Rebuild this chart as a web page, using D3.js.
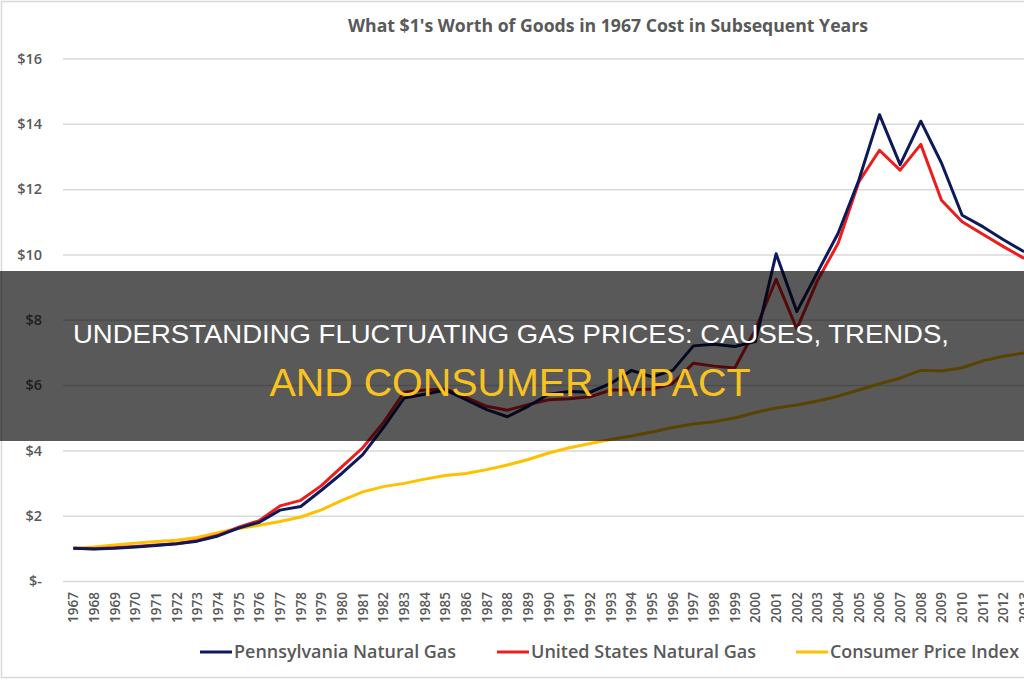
<!DOCTYPE html>
<html>
<head>
<meta charset="utf-8">
<script src="https://cdn.jsdelivr.net/npm/d3@7"></script>
<style>
  body { margin: 0; background: #fff; }
  svg { display: block; }
</style>
</head>
<body>
<div id="chart"></div>
<script>
// data
const years = d3.range(1967, 2014);
const paGas = [1.00, 0.98, 1.00, 1.04, 1.09, 1.14, 1.22, 1.38, 1.62, 1.80,
               2.17, 2.28, 2.78, 3.30, 3.87, 4.70, 5.60, 5.72, 5.85, 5.55,
               5.25, 5.03, 5.35, 5.72, 5.80, 5.78, 6.05, 6.45, 6.25, 6.45,
               7.20, 7.25, 7.18, 7.33, 10.02, 8.25, 9.45, 10.65, 12.27, 14.28,
               12.75, 14.08, 12.80, 11.20, 10.85, 10.45, 10.08];
const usGas = [1.00, 0.99, 1.02, 1.06, 1.10, 1.14, 1.24, 1.40, 1.65, 1.85,
               2.30, 2.47, 2.92, 3.50, 4.08, 4.85, 5.78, 5.85, 5.88, 5.62,
               5.35, 5.23, 5.40, 5.55, 5.58, 5.64, 5.85, 5.85, 5.88, 6.05,
               6.67, 6.58, 6.52, 7.70, 9.24, 7.72, 9.20, 10.34, 12.22, 13.19,
               12.58, 13.37, 11.66, 11.00, 10.62, 10.24, 9.88];
const cpi =   [1.00, 1.04, 1.10, 1.16, 1.21, 1.25, 1.33, 1.48, 1.61, 1.71,
               1.82, 1.96, 2.18, 2.47, 2.73, 2.89, 2.99, 3.12, 3.23, 3.29,
               3.41, 3.55, 3.72, 3.92, 4.08, 4.21, 4.33, 4.44, 4.56, 4.70,
               4.81, 4.88, 4.99, 5.16, 5.30, 5.39, 5.51, 5.66, 5.85, 6.04,
               6.21, 6.45, 6.43, 6.53, 6.74, 6.88, 6.98];
const yTicks = [0, 2, 4, 6, 8, 10, 12, 14, 16];
const seriesNames = ["Pennsylvania Natural Gas", "United States Natural Gas", "Consumer Price Index"];
const seriesColors = ["#0c1a5c", "#ee1c1c", "#ffc000"];

const W = 1024, H = 680;
const plotLeft = 63, step = 20.67;
const plotTop = 58.5, plotBottom = 581;

const svg = d3.select("#chart").append("svg")
    .attr("width", W)
    .attr("height", H);

// chart frame
svg.append("rect")
    .attr("x", 1.5).attr("y", 1.5)
    .attr("width", W + 20).attr("height", H - 4)
    .attr("fill", "#fff")
    .attr("stroke", "#d9d9d9")
    .attr("stroke-width", 1.5);

const x = d3.scaleBand()
    .domain(years)
    .range([plotLeft, plotLeft + years.length * step]);

const y = d3.scaleLinear()
    .domain([0, 16])
    .range([plotBottom, plotTop]);

// y axis + gridlines
const yAxis = svg.append("g")
    .attr("transform", `translate(${plotLeft},0)`)
    .call(d3.axisLeft(y)
        .tickValues(yTicks)
        .tickSize(-(W + 20 - plotLeft))
        .tickPadding(21)
        .tickFormat(d => d === 0 ? "$-" : "$" + d));
yAxis.select(".domain").remove();
yAxis.selectAll("line")
    .attr("stroke", "#d9d9d9")
    .attr("stroke-width", 1.5);
yAxis.selectAll("text")
    .attr("fill", "#595959")
    .style("font-family", "'Open Sans', sans-serif")
    .style("font-size", "14.5px")
    .style("font-weight", "600");

// x axis labels (rotated)
const xAxis = svg.append("g")
    .attr("transform", `translate(0,${plotBottom})`)
    .call(d3.axisBottom(x).tickSize(0).tickPadding(0));
xAxis.select(".domain").remove();
xAxis.selectAll("text")
    .attr("transform", "rotate(-90)")
    .attr("x", -11)
    .attr("y", 0)
    .attr("dy", "0.36em")
    .attr("text-anchor", "end")
    .attr("fill", "#595959")
    .style("font-family", "'Open Sans', sans-serif")
    .style("font-size", "13.5px")
    .style("font-weight", "600");

// lines
const line = d3.line()
    .x((d, i) => x(years[i]) + x.bandwidth() / 2)
    .y(d => y(d));

[cpi, usGas, paGas].forEach((vals, k) => {
    const idx = 2 - k;
    svg.append("path")
        .datum(vals)
        .attr("fill", "none")
        .attr("stroke", seriesColors[idx])
        .attr("stroke-width", 3)
        .attr("stroke-linejoin", "round")
        .attr("d", line);
});

// title
svg.append("text")
    .attr("x", 608)
    .attr("y", 32)
    .attr("text-anchor", "middle")
    .attr("textLength", 520)
    .attr("lengthAdjust", "spacingAndGlyphs")
    .attr("fill", "#595959")
    .style("font-family", "'Open Sans', sans-serif")
    .style("font-size", "18.5px")
    .style("font-weight", "700")
    .text("What $1's Worth of Goods in 1967 Cost in Subsequent Years");

// legend
const legendX = [200, 497, 796];
const legendW = [222, 225, 189];
const legend = svg.append("g");
seriesNames.forEach((name, i) => {
    legend.append("line")
        .attr("x1", legendX[i]).attr("x2", legendX[i] + 32)
        .attr("y1", 652).attr("y2", 652)
        .attr("stroke", seriesColors[i])
        .attr("stroke-width", 3);
    legend.append("text")
        .attr("x", legendX[i] + 34)
        .attr("y", 658)
        .attr("textLength", legendW[i])
        .attr("lengthAdjust", "spacingAndGlyphs")
        .attr("fill", "#595959")
        .style("font-family", "'Open Sans', sans-serif")
        .style("font-size", "17.5px")
        .style("font-weight", "600")
        .text(name);
});

// dark banner with headline
svg.append("rect")
    .attr("x", 0).attr("y", 271)
    .attr("width", W).attr("height", 170)
    .attr("fill", "#000")
    .attr("fill-opacity", 0.65);

svg.append("text")
    .attr("x", 511)
    .attr("y", 343)
    .attr("text-anchor", "middle")
    .attr("textLength", 876)
    .attr("lengthAdjust", "spacingAndGlyphs")
    .attr("fill", "#ffffff")
    .style("font-family", "'Liberation Sans', Arial, sans-serif")
    .style("font-size", "26.5px")
    .text("UNDERSTANDING FLUCTUATING GAS PRICES: CAUSES, TRENDS,");

svg.append("text")
    .attr("x", 510)
    .attr("y", 396)
    .attr("text-anchor", "middle")
    .attr("textLength", 481)
    .attr("lengthAdjust", "spacingAndGlyphs")
    .attr("fill", "#f9c31f")
    .style("font-family", "'Liberation Sans', Arial, sans-serif")
    .style("font-size", "38px")
    .text("AND CONSUMER IMPACT");
</script>
</body>
</html>
